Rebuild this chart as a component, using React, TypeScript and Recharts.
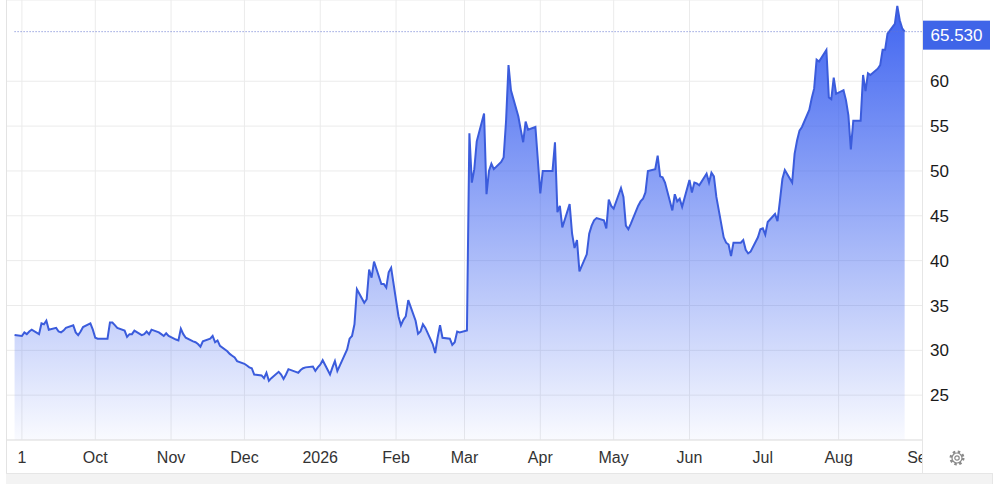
import React from 'react';
import { AreaChart, Area, XAxis, YAxis, CartesianGrid, ReferenceLine } from 'recharts';

// one close per weekday, Fri 29 Aug 2025 .. Fri 28 Aug 2026
const aug25 = [31.7];
const sep25 = [31.6, 32.0, 31.8, 32.1, 32.3, 31.8, 33.0, 32.9, 33.3, 32.3, 32.5, 32.1, 32.0, 32.2, 32.5, 32.8, 32.0, 31.7, 32.1, 32.6, 33.0, 32.3];
const oct25 = [31.4, 31.3, 31.3, 31.3, 33.1, 33.1, 32.8, 32.5, 32.2, 31.5, 31.8, 31.8, 32.2, 31.7, 31.8, 32.1, 31.8, 32.3, 32.0, 31.8, 31.6, 31.9, 31.6];
const nov25 = [31.2, 31.1, 32.4, 31.8, 31.4, 31.0, 30.9, 30.7, 30.4, 31.0, 31.3, 31.6, 30.9, 31.1, 30.5, 29.9, 29.6, 29.4, 29.2, 28.8];
const dec25 = [28.5, 28.3, 28.1, 28.0, 27.3, 27.2, 26.9, 27.5, 26.6, 26.9, 27.6, 27.3, 26.8, 27.3, 27.9, 27.6, 27.5, 27.8, 28.0, 28.1, 28.2, 27.7, 28.1];
const jan26 = [28.4, 28.9, 27.3, 28.1, 28.8, 27.7, 28.3, 30.1, 31.3, 31.6, 32.9, 36.8, 35.3, 35.7, 39.0, 38.1, 39.9, 37.4, 37.4, 37.0, 38.7, 39.2];
const feb26 = [33.8, 32.8, 33.4, 33.8, 35.6, 33.3, 31.85, 32.1, 32.9, 32.5, 30.7, 29.7, 31.4, 32.8, 31.4, 31.3, 30.6, 30.9, 32.1, 32.0];
const mar26 = [32.2, 54.2, 48.7, 50.2, 53.3, 56.4, 47.4, 50.0, 50.8, 50.2, 51.0, 51.5, 55.6, 61.8, 59.0, 56.1, 54.6, 53.2, 55.5, 54.6, 54.9, 51.2];
const apr26 = [47.5, 50.0, 50.0, 50.0, 53.2, 45.4, 46.1, 43.7, 46.3, 43.0, 41.4, 42.3, 38.8, 40.7, 43.0, 43.9, 44.5, 44.75, 44.5, 43.6, 46.8, 46.1];
const may26 = [45.8, 48.1, 47.1, 43.9, 43.5, 44.1, 46.1, 46.6, 46.9, 47.6, 50.0, 50.2, 51.7, 49.4, 49.3, 48.7, 45.6, 47.4, 46.6, 46.9, 46.0];
const jun26 = [49.0, 47.6, 48.7, 48.6, 48.4, 49.7, 48.7, 49.8, 49.4, 47.1, 42.6, 42.0, 41.8, 40.5, 42.0, 42.0, 42.3, 41.2, 40.8, 41.0, 42.6, 43.5];
const jul26 = [43.6, 42.9, 44.3, 45.2, 44.4, 46.7, 49.1, 50.1, 48.7, 51.9, 53.4, 54.5, 54.9, 56.8, 58.1, 59.2, 62.4, 62.2, 63.5, 58.2, 58.0, 60.4, 58.6];
const aug26 = [59.0, 57.9, 56.2, 52.4, 55.6, 55.6, 60.7, 58.9, 60.9, 60.7, 61.4, 61.8, 63.5, 63.5, 65.3, 66.4, 68.4, 66.8, 65.9, 65.53];

const lastPrice = 65.53;

const tickMonths: [number, number][] = [
  [2025, 8], [2025, 9], [2025, 10], [2025, 11], [2026, 0], [2026, 1], [2026, 2],
  [2026, 3], [2026, 4], [2026, 5], [2026, 6], [2026, 7], [2026, 8],
];
const tickLabels = ['1', 'Oct', 'Nov', 'Dec', '2026', 'Feb', 'Mar', 'Apr', 'May', 'Jun', 'Jul', 'Aug', 'Sep'];
const yTicks = [25, 30, 35, 40, 45, 50, 55, 60];

const DAY = 86400000;
const ORIGIN = Date.UTC(2025, 8, 1);
const START = Date.UTC(2025, 7, 29);
const dayOf = (ms: number) => Math.round((ms - ORIGIN) / DAY);

const X_DOMAIN: [number, number] = [-6.1, 368.1];

const buildData = () => {
  const values = [aug25, sep25, oct25, nov25, dec25, jan26, feb26, mar26, apr26, may26, jun26, jul26, aug26].flat();
  const rows: { day: number; price: number }[] = [];
  let t = START;
  for (const v of values) {
    while ([0, 6].includes(new Date(t).getUTCDay())) t += DAY;
    rows.push({ day: dayOf(t), price: v });
    t += DAY;
  }
  return rows;
};

const data = buildData();
const xTicks = tickMonths.map(([y, m]) => dayOf(Date.UTC(y, m, 1)));

const FONT = '"Liberation Sans", Arial, sans-serif';

const MonthTick = (props: any) => {
  const { x, y, payload } = props;
  const i = xTicks.indexOf(payload.value);
  const last = i === xTicks.length - 1;
  return (
    <text
      x={x + (last ? 7 : 0)}
      y={y}
      dy={15}
      textAnchor="middle"
      fontSize={16}
      fill="#333"
      fontFamily={FONT}
      clipPath="url(#xclip)"
    >
      {tickLabels[i]}
    </text>
  );
};

const PriceTag = (props: any) => {
  const vb = props.viewBox || {};
  const right = (vb.x || 0) + (vb.width || 0);
  const cy = vb.y || 0;
  return (
    <g>
      <rect x={right + 1} y={cy - 11} width={67} height={29} fill="#3f65e8" />
      <text x={right + 34.5} y={cy + 4} dy={5} textAnchor="middle" fontSize={17} fill="#fff" fontFamily={FONT}>
        {lastPrice.toFixed(3)}
      </text>
    </g>
  );
};

export default function App() {
  return (
    <div style={{ position: 'absolute', left: 0, top: 0, width: 1000, height: 484, background: '#fff', fontFamily: FONT, overflow: 'hidden' }}>
      <AreaChart width={1000} height={473} data={data} margin={{ top: 0, right: 0, bottom: 0, left: 7 }}>
        <defs>
          <linearGradient id="fillBlue" x1="0" y1="0" x2="0" y2="1">
            <stop offset="0%" stopColor="#3a60f0" stopOpacity={0.97} />
            <stop offset="100%" stopColor="#3a60f0" stopOpacity={0.03} />
          </linearGradient>
          <clipPath id="xclip">
            <rect x={0} y={0} width={922} height={484} />
          </clipPath>
        </defs>
        <CartesianGrid stroke="#ebebeb" verticalValues={xTicks.slice(0, -1)} />
        <XAxis
          type="number"
          dataKey="day"
          domain={X_DOMAIN}
          ticks={xTicks}
          interval={0}
          allowDataOverflow
          tick={<MonthTick />}
          tickLine={false}
          axisLine={{ stroke: '#e3e3e3' }}
          height={33}
        />
        <YAxis
          orientation="right"
          domain={[20, 69.06]}
          ticks={yTicks}
          allowDataOverflow
          tickLine={false}
          axisLine={false}
          width={78}
          tick={{ fontSize: 17, fill: '#1a1a1a', fontFamily: FONT }}
        />
        <ReferenceLine
          segment={[{ x: data[0].day, y: lastPrice }, { x: X_DOMAIN[1], y: lastPrice }]}
          stroke="#6576cf"
          strokeDasharray="1 2"
          label={<PriceTag />}
        />
        <Area
          type="linear"
          dataKey="price"
          stroke="#3b5cdc"
          strokeWidth={2}
          fill="url(#fillBlue)"
          fillOpacity={1}
          dot={false}
          activeDot={false}
          isAnimationActive={false}
        />
      </AreaChart>
      <div style={{ position: 'absolute', left: 6, top: 0, width: 1, height: 473, background: '#e3e3e3' }} />
      <div style={{ position: 'absolute', left: 922, top: 0, width: 1, height: 473, background: '#e6e6e6' }} />
      <div style={{ position: 'absolute', left: 6, top: 473, width: 986, height: 11, background: '#f3f3f3', borderTop: '1px solid #e6e6e6', borderRight: '1px solid #e6e6e6' }} />
      <svg style={{ position: 'absolute', left: 948, top: 449 }} width={18} height={18} viewBox="0 0 18 18">
        <circle cx={9} cy={9} r={6.2} fill="none" stroke="#8a8a8a" strokeWidth={2.6} strokeDasharray="2.4 2.47" />
        <circle cx={9} cy={9} r={5} fill="#fff" stroke="#8a8a8a" strokeWidth={1.2} />
        <circle cx={9} cy={9} r={2.2} fill="none" stroke="#8a8a8a" strokeWidth={1.2} />
      </svg>
    </div>
  );
}
